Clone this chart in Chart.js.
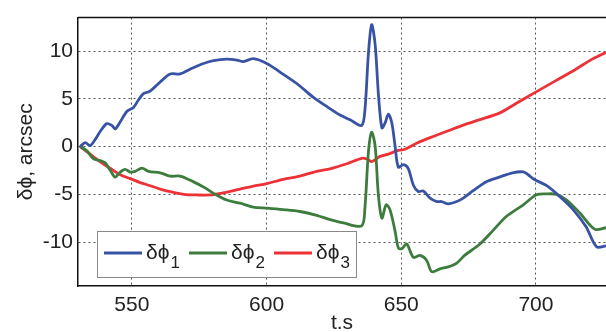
<!DOCTYPE html>
<html>
<head>
<meta charset="utf-8">
<script src="https://cdn.jsdelivr.net/npm/chart.js@4.4.0/dist/chart.umd.min.js"></script>
<style>
  html, body { margin: 0; padding: 0; background: #fff; }
  #c { display: block; }
</style>
</head>
<body>
<canvas id="c" width="606" height="332"></canvas>
<script>
// values (t in s, phase offsets in arcsec)
const t1 = [530.8, 532.7, 534.5, 536.4, 538.3, 540.7, 542.6, 543.8, 545.7, 548.2, 550.6, 552.5, 554.3, 556.8,
  560.5, 564.2, 567.9, 571.6, 576.6, 580.3, 585.2, 589, 591.4, 595.1, 600.1, 605, 611.2, 617.4, 622.3, 627.3,
  631, 635.3, 636.5, 637.8, 639, 640.3, 641.5, 642.8, 644, 645.2, 646.5, 647.7, 648.9, 650.8, 652.6, 654.5,
  656.3, 658.2, 660.7, 663.2, 665, 667.4, 670.6, 673, 676.8, 681.4, 686.4, 691.3, 695.3, 697.1, 699.3, 704,
  708.9, 713.8, 718.6, 722.5, 726];
const phi1 = [0, 0.4, 0.1, 0.75, 1.6, 2.4, 2.2, 1.85, 2.6, 3.7, 4.1, 4.9, 5.55, 5.8,
  6.76, 7.6, 7.6, 8.1, 8.7, 9.0, 9.15, 9.05, 8.9, 9.2, 8.7, 7.8, 6.6, 5.15, 4.2, 3.3,
  2.8, 2.2, 3.8, 9.7, 12.76, 10.7, 5.55, 1.95, 2.47, 3.4, 2.47, 0.07, -2.16, -1.9, -2.3, -4.05,
  -4.7, -4.66, -5.4, -5.76, -5.76, -6.0, -5.76, -5.4, -4.6, -3.7, -3.2, -2.75, -2.65, -2.95, -3.43, -4.1,
  -5.25, -6.6, -8.4, -10.5, -10.4];

const t2 = [530.8, 533.3, 535.8, 538.3, 540.1, 542, 543.8, 545.7, 547.5, 549.4, 551.2, 553.7, 556.2, 560.5,
  564.2, 567.9, 572.9, 577, 580.3, 585.2, 590.2, 595.1, 600.1, 606.2, 612.4, 618.6, 623.6, 628.5, 635.3,
  636.5, 637.8, 639, 640.3, 641.5, 642.8, 644.4, 645.8, 647.7, 648.9, 650.2, 652, 654.5, 657, 659.4, 661.3,
  664.4, 667.4, 670.6, 673.5, 679.2, 684, 689.1, 695.3, 700.2, 704, 707.6, 711.4, 716.3, 721.9, 726];
const phi2 = [0, -0.45, -1.3, -1.47, -1.7, -2.5, -3.2, -2.67, -2.4, -2.67, -2.6, -2.26, -2.6, -2.75,
  -3.1, -3.1, -3.7, -4.3, -4.9, -5.6, -5.93, -6.35, -6.45, -6.6, -6.8, -7.2, -7.65, -8.0, -8.3,
  -6.45, -0.6, 1.5, 0.07, -5.07, -7.5, -6.1, -6.6, -8.85, -10.6, -10.7, -10.2, -11.6, -11.4, -11.9, -13.1,
  -12.8, -12.6, -12.2, -11.4, -10.2, -8.8, -7.3, -6.1, -5.05, -4.95, -5.0, -5.6, -6.96, -8.67, -8.5];

const t3 = [530.8, 534.5, 538.3, 542, 545.7, 549.4, 553.1, 556.8, 560.5, 564.2, 569.2, 574.1, 579.1, 583,
  590.2, 595.1, 600.1, 606.2, 612.4, 618.6, 623.6, 629.8, 635.3, 637.2, 639, 642.1, 645.2, 648.3, 651.4,
  655.7, 660.7, 666.9, 674, 678.9, 686.4, 692.6, 699.9, 707.4, 714.8, 720.9, 726];
const phi3 = [0, -0.8, -1.6, -2.3, -2.95, -3.36, -3.77, -4.1, -4.45, -4.73, -5.0, -5.07, -5.07, -4.9,
  -4.45, -4.15, -3.88, -3.43, -3.1, -2.6, -2.33, -1.8, -1.23, -1.3, -1.57, -1.03, -0.8, -0.45, -0.28,
  0.34, 0.93, 1.6, 2.35, 2.8, 3.5, 4.5, 5.7, 6.9, 8.1, 9.15, 9.85];

const xTicks = [550, 600, 650, 700];
const yTicks = [-10, -5, 0, 5, 10];
const seriesNames = ['δϕ', 'δϕ', 'δϕ'];
const seriesSubs = ['1', '2', '3'];
const seriesColors = ['#3953a4', '#3c7d3d', '#ec3237'];

const FONT = "'Liberation Sans', Arial, sans-serif";

function pts(t, v) {
  return t.map((x, i) => ({ x: x, y: v[i] }));
}

const series = [[t1, phi1], [t2, phi2], [t3, phi3]];

// top frame + legend box inside the plot, bottom left
const legendBox = {
  id: 'legendBox',
  afterDraw(chart) {
    const ctx = chart.ctx;
    const a = chart.chartArea;
    ctx.save();
    ctx.strokeStyle = '#111';
    ctx.lineWidth = 1.5;
    ctx.beginPath();
    ctx.moveTo(a.left, a.top);
    ctx.lineTo(a.right, a.top);
    ctx.stroke();

    const x0 = a.left + 19, y0 = a.bottom - 55, w = 259, h = 46;
    ctx.fillStyle = '#fff';
    ctx.fillRect(x0, y0, w, h);
    ctx.strokeStyle = '#888';
    ctx.lineWidth = 1;
    ctx.strokeRect(x0 + 0.5, y0 + 0.5, w, h);

    chart.data.datasets.forEach((ds, i) => {
      const lx = x0 + 7 + i * 85;
      ctx.strokeStyle = ds.borderColor;
      ctx.lineWidth = 2.8;
      ctx.beginPath();
      ctx.moveTo(lx, y0 + 22);
      ctx.lineTo(lx + 38, y0 + 22);
      ctx.stroke();
      ctx.fillStyle = '#222';
      ctx.textAlign = 'left';
      ctx.textBaseline = 'alphabetic';
      ctx.font = '21px ' + FONT;
      ctx.fillText(seriesNames[i], lx + 42, y0 + 28);
      const tw = ctx.measureText(seriesNames[i]).width;
      ctx.font = '17px ' + FONT;
      ctx.fillText(seriesSubs[i], lx + 43 + tw, y0 + 37);
    });
    ctx.restore();
  }
};

new Chart(document.getElementById('c').getContext('2d'), {
  type: 'line',
  data: {
    datasets: series.map((s, i) => ({
      label: seriesNames[i] + seriesSubs[i],
      data: pts(s[0], s[1]),
      borderColor: seriesColors[i],
      borderWidth: 2.8,
      pointRadius: 0,
      tension: 0.3,
      fill: false
    }))
  },
  options: {
    responsive: false,
    animation: false,
    devicePixelRatio: 1,
    layout: { padding: { top: 12, left: 0, right: 0, bottom: 0 } },
    plugins: {
      legend: { display: false },
      tooltip: { enabled: false }
    },
    scales: {
      x: {
        type: 'linear',
        min: 530,
        max: 726,
        afterBuildTicks: function(scale) {
          scale.ticks = xTicks.map(v => ({ value: v }));
        },
        afterFit: function(scale) { scale.height = 46; },
        ticks: {
          color: '#222',
          padding: 7,
          font: { family: FONT, size: 21 },
          maxRotation: 0
        },
        grid: { color: '#555', lineWidth: 1, drawTicks: false },
        border: { color: '#111', width: 1.5, dash: [2, 3] },
        title: {
          display: true,
          text: 't.s',
          color: '#222',
          font: { family: FONT, size: 21, lineHeight: 0.8 },
          padding: { top: 0, bottom: 0 }
        }
      },
      y: {
        min: -14.6,
        max: 13.5,
        afterBuildTicks: function(scale) {
          scale.ticks = yTicks.map(v => ({ value: v }));
        },
        afterFit: function(scale) { scale.width = 78; },
        ticks: {
          color: '#222',
          padding: 5,
          font: { family: FONT, size: 21 }
        },
        grid: { color: '#555', lineWidth: 1, drawTicks: false },
        border: { color: '#111', width: 1.5, dash: [2, 3] },
        title: {
          display: true,
          text: 'δϕ, arcsec',
          color: '#222',
          font: { family: FONT, size: 21 },
          padding: { top: 14, bottom: 0 }
        }
      }
    }
  },
  plugins: [legendBox]
});
</script>
</body>
</html>
